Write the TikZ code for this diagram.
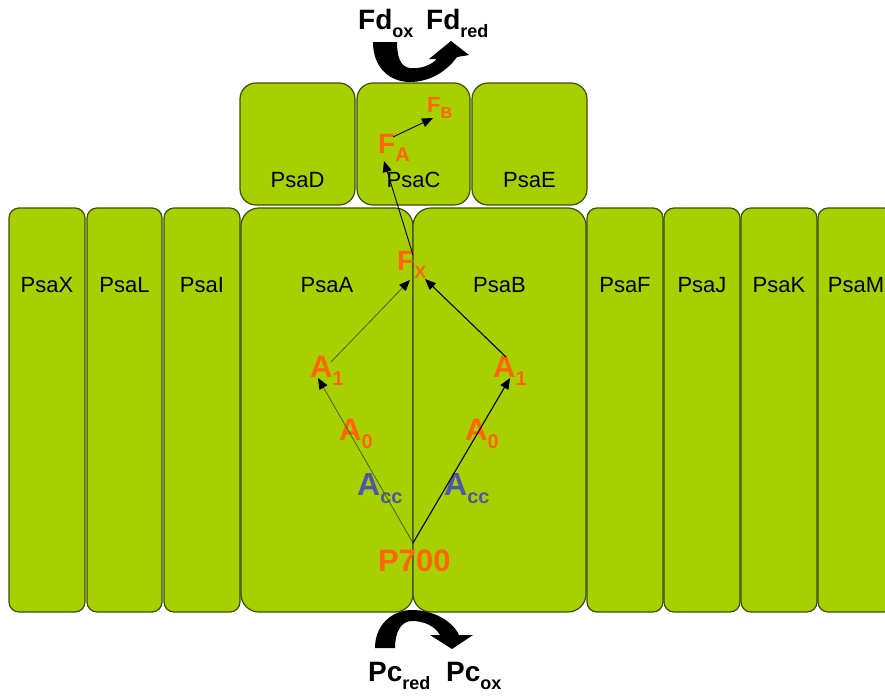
\documentclass[tikz,border=0pt]{standalone}
\usepackage{fontspec}
\setmainfont{Liberation Sans}
\usetikzlibrary{arrows.meta}
\definecolor{psgreen}{RGB}{168,208,0}
\definecolor{psedge}{RGB}{60,78,10}
\definecolor{carrorange}{RGB}{255,100,10}
\definecolor{accblue}{RGB}{78,88,170}
\definecolor{oliveline}{RGB}{75,95,25}
\newcommand\cf[5]{{\fontsize{#3}{#3}\selectfont #1}\raisebox{-#5pt}{\fontsize{#4}{#4}\selectfont #2}}
\begin{document}
\begin{tikzpicture}[x=1pt,y=-1pt,
  subunit/.style={draw=psedge, fill=psgreen, line width=1.2pt, rounded corners=10pt,
    minimum height=404pt, minimum width=76pt, inner sep=0pt, outer sep=0pt},
  bigunit/.style={subunit, rounded corners=18pt},
  topunit/.style={subunit, rounded corners=16pt, minimum height=122pt},
  plabel/.style={font=\fontsize{22}{22}\selectfont, inner sep=0pt},
  carrier/.style={font=\bfseries, text=carrorange, inner sep=0pt, anchor=base west},
  accnode/.style={carrier, text=accblue},
  redox/.style={font=\bfseries, text=black, inner sep=0pt, anchor=base west},
  etarrow/.style={-{Triangle[length=11pt,width=9pt,color=black]}, line width=1.1pt, draw=black},
  etleft/.style={etarrow, draw=oliveline, line width=0.8pt},
  bigarrow/.style={fill=black, draw=none}
]
\useasboundingbox (0,0) rectangle (885,696);
\clip (0,0) rectangle (885,696);

% membrane subunits
\node[subunit] (psax) at (47,410) {};
\node[subunit, minimum width=75pt] (psal) at (124.5,410) {};
\node[subunit] (psai) at (202,410) {};
\node[bigunit, minimum width=172pt] (psaa) at (327,410) {};
\node[bigunit, minimum width=173pt] (psab) at (499.5,410) {};
\node[subunit] (psaf) at (625,410) {};
\node[subunit] (psaj) at (702,410) {};
\node[subunit] (psak) at (779,410) {};
\node[subunit] (psam) at (856,410) {};

% stromal subunits
\node[topunit, minimum width=115pt] (psad) at (297.5,144) {};
\node[topunit, minimum width=113pt] (psac) at (413.5,144) {};
\node[topunit, minimum width=115pt] (psae) at (529.5,144) {};

% subunit labels
\node[plabel] (lx) at (47,285) {PsaX};
\node[plabel] (ll) at (124.5,285) {PsaL};
\node[plabel] (li) at (202,285) {PsaI};
\node[plabel] (la) at (327,285) {PsaA};
\node[plabel] (lb) at (499.5,285) {PsaB};
\node[plabel] (lf) at (625,285) {PsaF};
\node[plabel] (lj) at (702,285) {PsaJ};
\node[plabel] (lk) at (779,285) {PsaK};
\node[plabel] (lm) at (856,285) {PsaM};
\node[plabel] (ld) at (297.5,180) {PsaD};
\node[plabel] (lc) at (413.5,180) {PsaC};
\node[plabel] (le) at (529.5,180) {PsaE};

% electron carriers
\node[carrier] (p700) at (378,571) {\fontsize{31}{31}\selectfont P700};
\node[accnode] (accl) at (357,495) {\cf{A}{cc}{32}{20}{8}};
\node[accnode] (accr) at (444,495) {\cf{A}{cc}{32}{20}{8}};
\node[carrier] (a0l) at (339,440) {\cf{A}{0}{31}{20}{8}};
\node[carrier] (a0r) at (465,440) {\cf{A}{0}{31}{20}{8}};
\node[carrier] (a1l) at (310,377) {\cf{A}{1}{31}{20}{8}};
\node[carrier] (a1r) at (493,377) {\cf{A}{1}{31}{20}{8}};
\node[carrier] (fx) at (397,270) {\cf{F}{X}{28}{18}{8}};
\node[carrier] (fa) at (378,153) {\cf{F}{A}{28}{20}{8}};
\node[carrier] (fb) at (427,112) {\cf{F}{B}{22}{16}{6}};

% connector end points
\coordinate (p700top) at (413,543);
\coordinate (a1lin) at (318,378);
\coordinate (a1rin) at (510,378);
\coordinate (a1lout) at (331,362);
\coordinate (a1rout) at (506,357);
\coordinate (fxinl) at (410,280);
\coordinate (fxinr) at (425,279);
\coordinate (fxout) at (413,255);
\coordinate (fain) at (384,161);
\coordinate (faout) at (393,137);
\coordinate (fbin) at (433,118);

\draw[etleft] (p700top) -- (a1lin);
\draw[etarrow] (p700top) -- (a1rin);
\draw[etleft] (a1lout) -- (fxinl);
\draw[etarrow] (a1rout) -- (fxinr);
\draw[etarrow, line width=0.9pt] (fxout) -- (fain);
\draw[etarrow, line width=0.9pt] (faout) -- (fbin);

% ferredoxin arrow
\fill[bigarrow] (373,42) .. controls (373,68) and (390,82) .. (410,82)
  .. controls (430,82) and (447,71) .. (457,57)
  -- (469,55) -- (451,41) -- (429,59) -- (437,59)
  .. controls (430,66) and (420,69) .. (410,68)
  .. controls (400,67) and (397,56) .. (397,42) -- cycle;
% plastocyanin arrow
\fill[bigarrow] (375,648) .. controls (375,625) and (392,610) .. (412,610)
  .. controls (432,610) and (452,620) .. (459,635)
  -- (473,635) -- (452,649) -- (430,635) -- (440,635)
  .. controls (435,626) and (424,621) .. (412,621)
  .. controls (401,621) and (395,632) .. (395,648) -- cycle;

% redox partner labels
\node[redox] (fdox) at (358,29) {\cf{Fd}{ox}{28}{18}{8}};
\node[redox] (fdred) at (426,29) {\cf{Fd}{red}{28}{18}{8}};
\node[redox] (pcred) at (368,681) {\cf{Pc}{red}{28}{18}{8}};
\node[redox] (pcox) at (446,681) {\cf{Pc}{ox}{28}{18}{8}};
\end{tikzpicture}
\end{document}
